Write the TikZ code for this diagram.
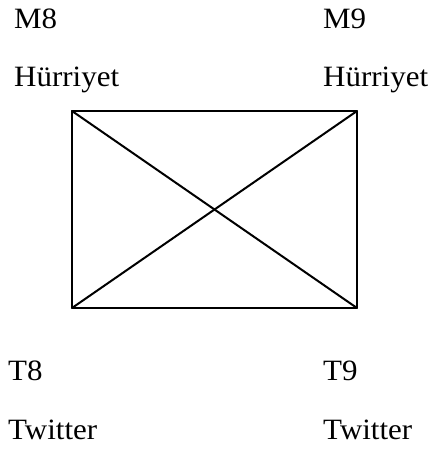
\documentclass[tikz,border=0pt]{standalone}
\usepackage{fontspec}
\setmainfont{Liberation Serif}
\begin{document}
\begin{tikzpicture}[x=1pt,y=-1pt,
  lbl/.style={anchor=base west,inner sep=0pt,font=\fontsize{29.5}{32}\selectfont,xscale=1.05},
  edge/.style={line width=2pt,line cap=round,line join=round}]
\useasboundingbox (0,0) rectangle (436,453);
\node[lbl] (m8) at (14,28) {M8};
\node[lbl] (h8) at (14,86) {Hürriyet};
\node[lbl] (m9) at (323,28) {M9};
\node[lbl] (h9) at (323,86) {Hürriyet};
\node[lbl] (t8) at (8,380) {T8};
\node[lbl] (w8) at (8,439) {Twitter};
\node[lbl] (t9) at (323,380) {T9};
\node[lbl] (w9) at (323,439) {Twitter};
\coordinate (tl) at (72,111);
\coordinate (tr) at (357,111);
\coordinate (bl) at (72,308);
\coordinate (br) at (357,308);
\draw[edge] (tl) -- (tr) -- (br) -- (bl) -- cycle;
\draw[edge] (tl) -- (br);
\draw[edge] (tr) -- (bl);
\end{tikzpicture}
\end{document}
